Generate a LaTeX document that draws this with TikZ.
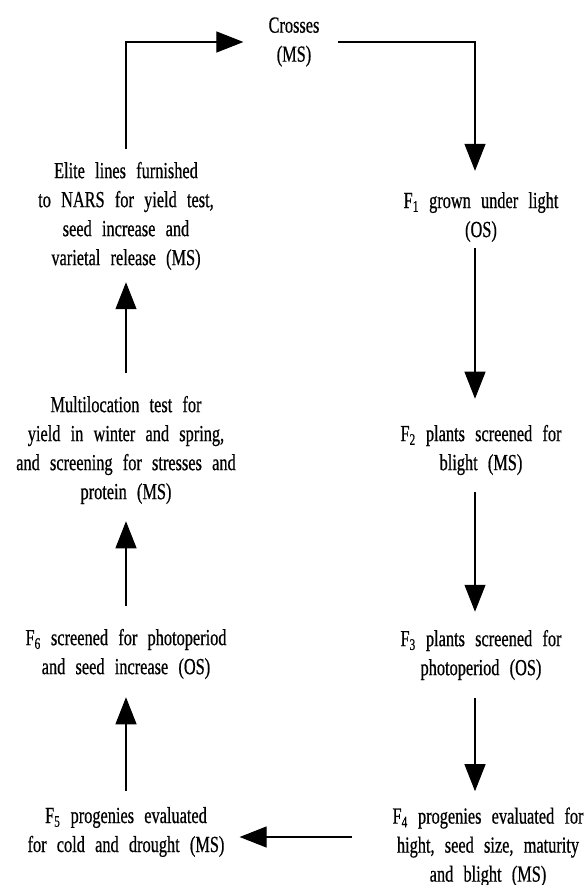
\documentclass[tikz,border=0pt]{standalone}
\usepackage{fontspec}
\setmainfont{Liberation Serif}[FakeStretch=0.71,WordSpace=2.5,FakeBold=0.6]
\usetikzlibrary{arrows.meta}

\tikzset{
  stage/.style={align=center,inner sep=0pt,font=\fontsize{23}{29}\selectfont},
  flow/.style={line width=1.1pt,-{Triangle[length=27pt,width=21pt]}}
}

\begin{document}
\begin{tikzpicture}[x=1pt,y=-1pt]
        \useasboundingbox (0,0) rectangle (583,885);
        \coordinate (lcol) at (126,0);
        \coordinate (rcol) at (475,0);
        \coordinate (hrow) at (0,837);
        % the stages
        \node[stage] (crosses) at (294,42) {Crosses\\(MS)};
        \node[stage] (f1) at (481,217) {F\textsubscript{1} grown under light\\(OS)};
        \node[stage] (f2) at (481,450) {F\textsubscript{2} plants screened for\\blight (MS)};
        \node[stage] (f3) at (481,655) {F\textsubscript{3} plants screened for\\photoperiod (OS)};
        \node[stage] (f4) at (488,847) {F\textsubscript{4} progenies evaluated for\\hight, seed size, maturity\\and blight (MS)};
        \node[stage] (f5) at (126,832) {F\textsubscript{5} progenies evaluated\\for cold and drought (MS)};
        \node[stage] (f6) at (126,654) {F\textsubscript{6} screened for photoperiod\\and seed increase (OS)};
        \node[stage] (multi) at (126,450) {Multilocation test for\\yield in winter and spring,\\and screening for stresses and\\protein (MS)};
        \node[stage] (elite) at (126,216) {Elite lines furnished\\to NARS for yield test,\\seed increase and\\varietal release (MS)};
        % the cycle
        \draw[flow,shorten <=18pt,shorten >=21pt] (crosses.east) -| (f1.north -| rcol);
        \draw[flow,shorten <=6pt,shorten >=26pt] (f1.south -| rcol) -- (f2.north -| rcol);
        \draw[flow,shorten <=17pt,shorten >=18pt] (f2.south -| rcol) -- (f3.north -| rcol);
        \draw[flow,shorten <=18pt,shorten >=16pt] (f3.south -| rcol) -- (f4.north -| rcol);
        \draw[flow,shorten <=40pt,shorten >=15pt] (f4.west |- hrow) -- (f5.east |- hrow);
        \draw[flow,shorten <=16pt,shorten >=18pt] (f5.north -| lcol) -- (f6.south -| lcol);
        \draw[flow,shorten <=23pt,shorten >=17pt] (f6.north -| lcol) -- (multi.south -| lcol);
        \draw[flow,shorten <=23pt,shorten >=12pt] (multi.north -| lcol) -- (elite.south -| lcol);
        \draw[flow,shorten <=13pt,shorten >=25pt] (elite.north -| lcol) |- (crosses.west);
    \end{tikzpicture}
\end{document}
